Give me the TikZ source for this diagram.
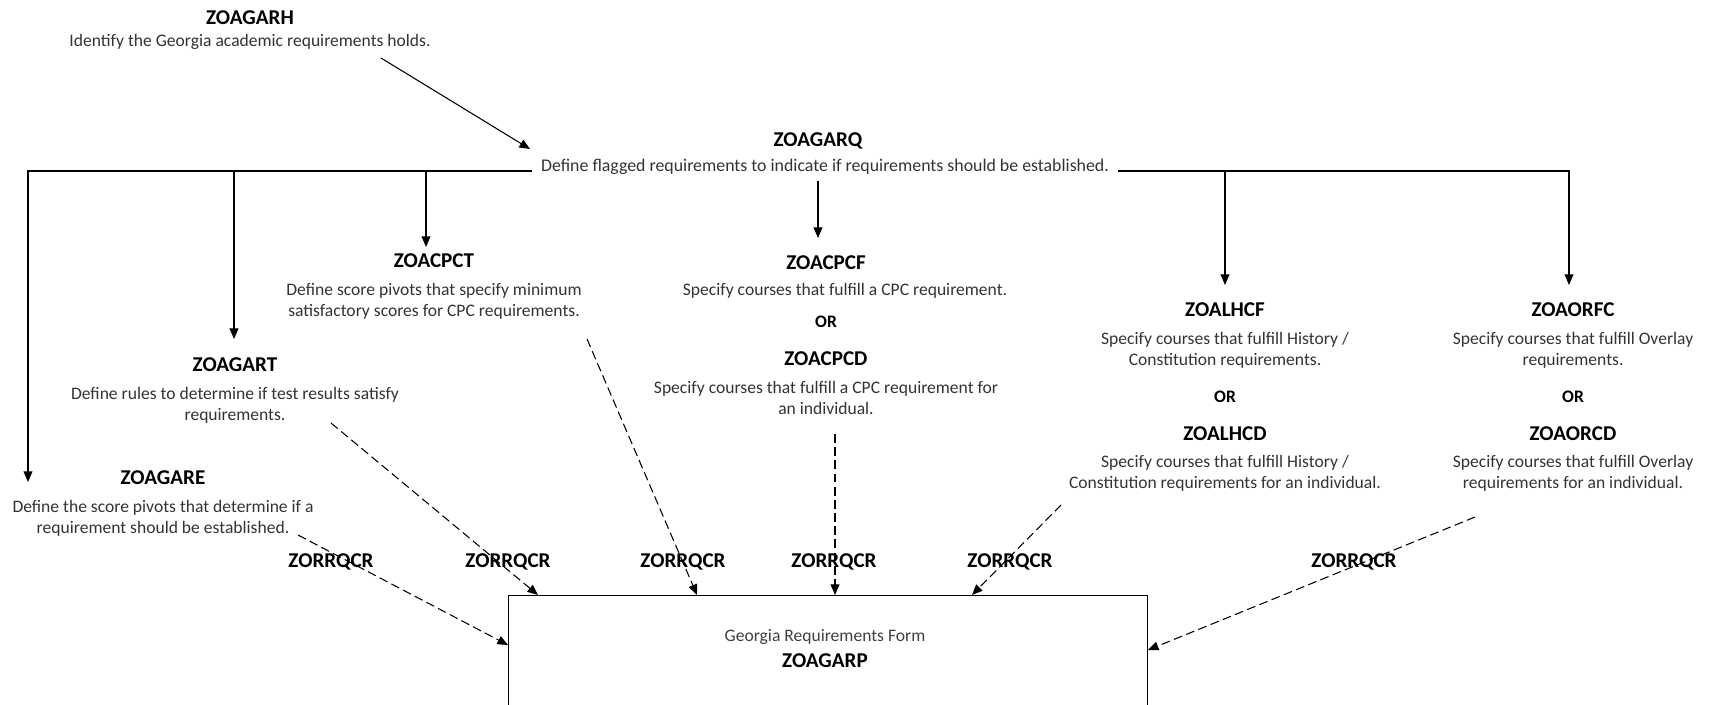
\documentclass[tikz,border=0pt]{standalone}
\usepackage{fontspec}
\setmainfont{Carlito}
\usetikzlibrary{arrows.meta,calc}

\begin{document}
\begin{tikzpicture}[x=0.02cm,y=-0.02cm,
    title/.style={font=\fontsize{12}{14}\selectfont\bfseries,inner sep=1pt},
    desc/.style={font=\fontsize{10}{12}\selectfont,align=center,inner sep=1pt,text=black!80},
    ortext/.style={font=\fontsize{10}{12}\selectfont\bfseries,inner sep=1pt},
    link/.style={line width=0.6pt,-{Triangle[length=6pt,width=5pt]}},
    dlink/.style={link,dash pattern=on 5pt off 2.5pt}]

    \useasboundingbox (0,0) rectangle (1730,704);
    \clip (0,0) rectangle (1730,704);

    \node[title] (garh) at (250,18) {ZOAGARH};
    \node[desc] (garhd) at (250,42) {Identify the Georgia academic requirements holds.};

    \node[title] (garq) at (818,141) {ZOAGARQ};
    \node[desc,font=\fontsize{10.15}{12}\selectfont,inner xsep=5pt,anchor=base] (garqd) at (825,171) {Define flagged requirements to indicate if requirements should be established.};

    \node[title] (cpct) at (434,261) {ZOACPCT};
    \node[desc] (cpctd) at (434,301.5) {Define score pivots that specify minimum\\satisfactory scores for CPC requirements.};

    \node[title] (gart) at (235,365) {ZOAGART};
    \node[desc] (gartd) at (235,405.5) {Define rules to determine if test results satisfy\\requirements.};

    \node[title] (gare) at (163,478) {ZOAGARE};
    \node[desc] (gared) at (163,518) {Define the score pivots that determine if a\\requirement should be established.};

    \node[title] (cpcf) at (826,263) {ZOACPCF};
    \node[desc] (cpcfd) at (845,291) {Specify courses that fulfill a CPC requirement.};
    \node[ortext] (or1) at (826,322) {OR};
    \node[title] (cpcd) at (826,359) {ZOACPCD};
    \node[desc] (cpcdd) at (826,398) {Specify courses that fulfill a CPC requirement for\\an individual.};

    \node[title] (lhcf) at (1225,310) {ZOALHCF};
    \node[desc] (lhcfd) at (1225,350.5) {Specify courses that fulfill History /\\Constitution requirements.};
    \node[ortext] (or2) at (1225,397) {OR};
    \node[title] (lhcd) at (1225,434) {ZOALHCD};
    \node[desc] (lhcdd) at (1225,473.5) {Specify courses that fulfill History /\\Constitution requirements for an individual.};

    \node[title] (orfc) at (1573,310) {ZOAORFC};
    \node[desc] (orfcd) at (1573,350.5) {Specify courses that fulfill Overlay\\requirements.};
    \node[ortext] (or3) at (1573,397) {OR};
    \node[title] (orcd) at (1573,434) {ZOAORCD};
    \node[desc] (orcdd) at (1573,473.5) {Specify courses that fulfill Overlay\\requirements for an individual.};

    \node[draw,line width=0.6pt,anchor=north west,minimum width=12.78cm,minimum height=3.4cm,inner sep=0pt] (form) at (508,595) {};
    \node[desc,text=black!75] (formt) at (825,637) {Georgia Requirements Form};
    \node[title] (garp) at (825,661) {ZOAGARP};

    \node[title] (rq1) at (331,562) {ZORRQCR};
    \node[title] (rq2) at (508,562) {ZORRQCR};
    \node[title] (rq3) at (683,562) {ZORRQCR};
    \node[title] (rq4) at (834,562) {ZORRQCR};
    \node[title] (rq5) at (1010,562) {ZORRQCR};
    \node[title] (rq6) at (1354,562) {ZORRQCR};

    \coordinate (tE) at (28,482);
    \coordinate (tT) at (234,339);
    \coordinate (tP) at (426,247);
    \coordinate (tF) at (818,238);
    \coordinate (tH) at (1225,285);
    \coordinate (tO) at (1569,285);

    \coordinate (s0) at (381,58);
    \coordinate (e0) at (530,149);
    \draw[link] (s0) -- (e0);

    \draw[link] (garqd.base west) -| (tE);
    \draw[link] (tT |- garqd.base) -- (tT);
    \draw[link] (tP |- garqd.base) -- (tP);
    \draw[link] (garqd.base east) -| (tO);
    \draw[link] (tH |- garqd.base) -- (tH);
    \draw[link] ([yshift=-3pt]garqd.south -| tF) -- (tF);

    \coordinate (s1) at (298,535);
    \coordinate (s2) at (331,423);
    \coordinate (s3) at (587,339);
    \coordinate (s4) at (835,434);
    \coordinate (s5) at (1061,505);
    \coordinate (s6) at (1475,517);

    \draw[dlink] (s1) -- ($(form.north west)+(0,50)$);
    \draw[dlink] (s2) -- ($(form.north west)+(30,0)$);
    \draw[dlink] (s3) -- ($(form.north west)+(189,0)$);
    \draw[dlink] (s4) -- ($(form.north west)+(327,0)$);
    \draw[dlink] (s5) -- ($(form.north west)+(464,0)$);
    \draw[dlink] (s6) -- ($(form.north east)+(0,55)$);

\end{tikzpicture}
\end{document}
